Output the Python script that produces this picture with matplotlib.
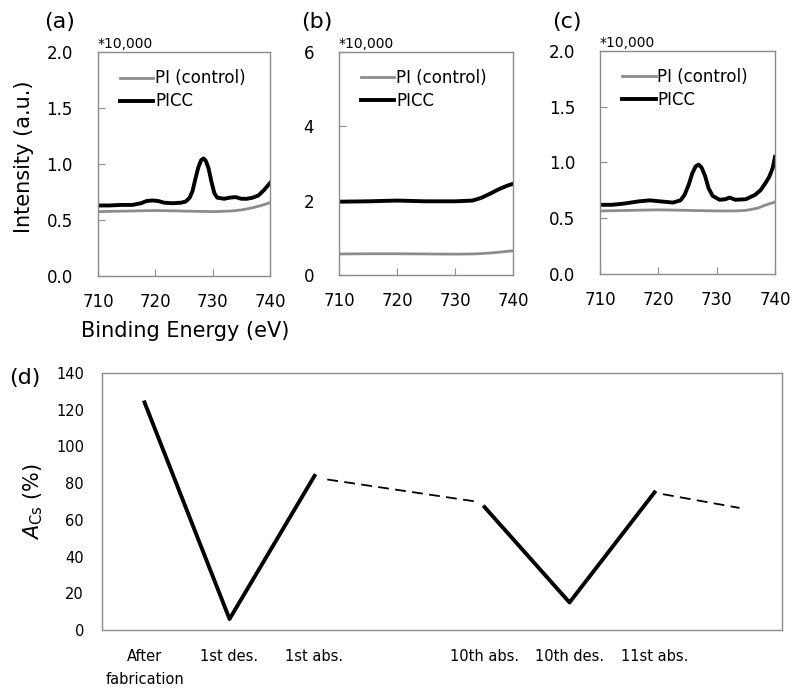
import numpy as np
import matplotlib
matplotlib.use("Agg")
from matplotlib import pyplot as plt

# XPS spectra (x 10,000)
ev_a = [710, 712, 714, 716, 717.5, 718.5, 719.5, 720.5, 721.5, 723, 724.5, 725.3, 726,
        726.5, 727, 727.5, 728, 728.4, 728.8, 729.3, 729.8, 730.3, 730.8, 732, 733, 734, 735,
        736, 737, 738, 739, 740]
picc_a = [0.63, 0.63, 0.635, 0.635, 0.65, 0.67, 0.675, 0.67, 0.655, 0.65, 0.655, 0.665, 0.7,
          0.76, 0.87, 0.97, 1.035, 1.05, 1.03, 0.96, 0.84, 0.74, 0.7, 0.69, 0.7, 0.705, 0.69,
          0.69, 0.7, 0.72, 0.77, 0.83]
ev_pi = [710, 715, 720, 725, 730, 733, 735, 737, 738.5, 740]
pi_a = [0.575, 0.58, 0.585, 0.58, 0.575, 0.58, 0.59, 0.61, 0.63, 0.655]

ev_b = [710, 715, 720, 725, 730, 733, 734.5, 736, 737.5, 739, 740]
picc_b = [1.97, 1.98, 2.0, 1.98, 1.98, 2.0, 2.07, 2.18, 2.3, 2.4, 2.45]
pi_b = [0.565, 0.57, 0.57, 0.565, 0.56, 0.565, 0.575, 0.59, 0.61, 0.635, 0.65]

ev_c = [710, 712, 714, 716.5, 718.5, 720.5, 722.5, 723.8, 724.5, 725.2, 725.8, 726.4, 726.9,
        727.4, 728, 728.6, 729.3, 730.5, 731.5, 732.2, 733.2, 735, 736.6, 737.5, 738.3, 739,
        739.6, 740]
picc_c = [0.62, 0.62, 0.63, 0.65, 0.66, 0.65, 0.64, 0.66, 0.71, 0.8, 0.9, 0.965, 0.98,
          0.955, 0.88, 0.77, 0.7, 0.665, 0.67, 0.685, 0.665, 0.67, 0.71, 0.75, 0.81, 0.87,
          0.95, 1.05]
pi_c = [0.565, 0.57, 0.575, 0.57, 0.565, 0.565, 0.57, 0.59, 0.62, 0.645]

# A_Cs over the cycles
cats = ["After\nfabrication", "1st des.", "1st abs.", "", "10th abs.", "10th des.", "11st abs.", ""]
solid1_x = [0, 1, 2]
solid1_y = [124, 6, 84]
solid2_x = [4, 5, 6]
solid2_y = [67, 15, 75]
dash1_x = [2.15, 3.9]
dash1_y = [82, 70]
dash2_x = [6.1, 7]
dash2_y = [74, 66.5]

gray = "#8c8c8c"
fig = plt.figure(figsize=(7.94, 6.89), dpi=100)

tops = [
    ([0.1234, 0.5994, 0.2166, 0.325], ev_a, picc_a, ev_pi, pi_a, 2.0, [0.0, 0.5, 1.0, 1.5, 2.0], "%.1f", "(a)", 0.068),
    ([0.4270, 0.6009, 0.2190, 0.324], ev_b, picc_b, ev_b, pi_b, 6, [0, 2, 4, 6], "%d", "(b)", 0.048),
    ([0.7557, 0.6023, 0.2204, 0.324], ev_c, picc_c, ev_pi, pi_c, 2.0, [0.0, 0.5, 1.0, 1.5, 2.0], "%.1f", "(c)", 0.060),
]
for rect, ex, yc, epi, ypi, ymax, yt, fmt, tag, off in tops:
    ax = fig.add_axes(rect)
    ax.plot(epi, ypi, color=gray, lw=2.0, label="PI (control)")
    ax.plot(ex, yc, color="black", lw=2.8, label="PICC")
    ax.set_xlim(710, 740)
    ax.set_ylim(0, ymax)
    ax.set_xticks([710, 720, 730, 740])
    ax.set_yticks(yt)
    ax.set_yticklabels([fmt % v for v in yt])
    ax.tick_params(direction="in", length=5, color=gray, labelsize=12)
    ax.tick_params(axis="x", pad=12)
    ax.tick_params(axis="y", pad=18)
    for s in ax.spines.values():
        s.set_color(gray)
        s.set_linewidth(1.0)
    ax.legend(loc="upper left", bbox_to_anchor=(0.06, 0.975), frameon=False, fontsize=12,
              handlelength=2.0, handletextpad=0.1, borderaxespad=0.3, labelspacing=0.3)
    ax.text(0.0, 1.005, "*10,000", transform=ax.transAxes, fontsize=10, va="bottom")
    fig.text(rect[0] - off, 0.968, tag, fontsize=16, va="center")

fig.text(0.03, 0.772, "Intensity (a.u.)", rotation=90, fontsize=15, va="center", ha="center")
fig.text(0.233, 0.52, "Binding Energy (eV)", fontsize=15, va="center", ha="center")

ax = fig.add_axes([0.1285, 0.0856, 0.8564, 0.373])
ax.plot(solid1_x, solid1_y, color="black", lw=2.8)
ax.plot(solid2_x, solid2_y, color="black", lw=2.8)
ax.plot(dash1_x, dash1_y, color="black", lw=1.3, ls=(0, (6, 3.5)))
ax.plot(dash2_x, dash2_y, color="black", lw=1.3, ls=(0, (6, 3.5)))
ax.set_xlim(-0.5, len(cats) - 0.5)
ax.set_ylim(0, 140)
ax.set_yticks(np.arange(0, 141, 20))
ax.set_xticks(range(len(cats)))
ax.set_xticklabels(cats, fontsize=10.5, linespacing=1.6)
ax.tick_params(axis="x", length=0, pad=14)
ax.tick_params(axis="y", length=0, pad=13, labelsize=10.5)
for s in ax.spines.values():
    s.set_color(gray)
    s.set_linewidth(1.0)
ax.set_ylabel(r"$A_{\mathrm{Cs}}$ (%)", fontsize=15, labelpad=8)
fig.text(0.012, 0.452, "(d)", fontsize=16, va="center")

fig.savefig("out.png", dpi=100)
